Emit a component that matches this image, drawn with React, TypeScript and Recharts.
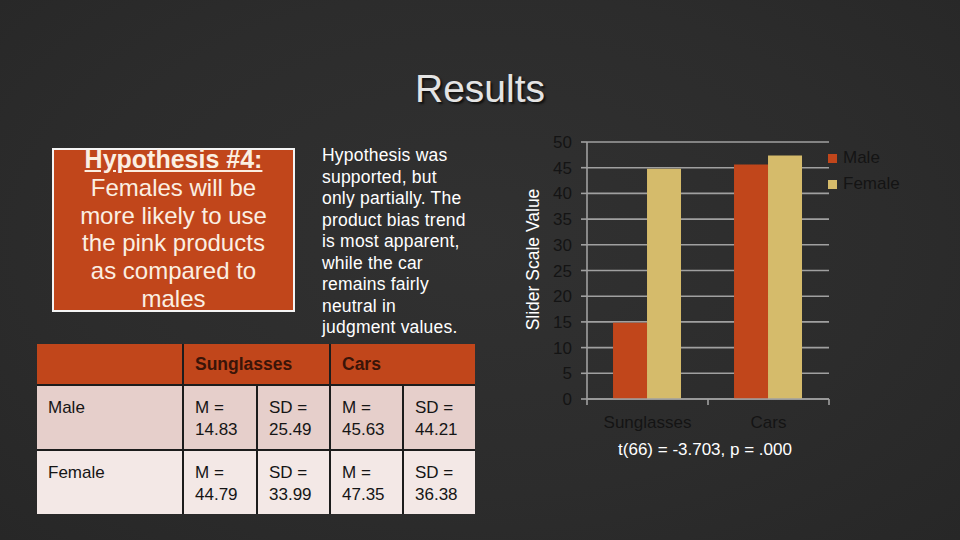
import React from "react";
import { BarChart, Bar, XAxis, YAxis, CartesianGrid, Legend, Label } from "recharts";

const categories = ["Sunglasses", "Cars"];
const maleValues = [14.83, 45.63];
const femaleValues = [44.79, 47.35];
const yTicks = [0, 5, 10, 15, 20, 25, 30, 35, 40, 45, 50];
const seriesNames = ["Male", "Female"];

const maleSD = [25.49, 44.21];
const femaleSD = [33.99, 36.38];

const hypothesisTitle = "Hypothesis #4:";
const hypothesisLines = ["Females will be", "more likely to use", "the pink products", "as compared to", "males"];
const paragraphLines = [
  "Hypothesis was",
  "supported, but",
  "only partially. The",
  "product bias trend",
  "is most apparent,",
  "while the car",
  "remains fairly",
  "neutral in",
  "judgment values.",
];
const statText = "t(66) = -3.703, p = .000";

const data = categories.map((c, i) => ({
  category: c,
  Male: maleValues[i],
  Female: femaleValues[i],
}));

const FONT = '"Liberation Sans", Arial, Helvetica, sans-serif';
const MALE_COLOR = "#c1461b";
const FEMALE_COLOR = "#d5bb6b";
const GRID = "#a0a0a0";
const DARK_TEXT = "#141414";

const XTick = (props: any) => {
  const { x, y, payload, index } = props;
  const half = payload && typeof payload.offset === "number" ? payload.offset : 0;
  const last = index === categories.length - 1;
  return (
    <g>
      <line x1={x - half} x2={x - half} y1={y} y2={y + 6} stroke={GRID} strokeWidth={1.6} />
      {last && <line x1={x + half} x2={x + half} y1={y} y2={y + 6} stroke={GRID} strokeWidth={1.6} />}
      <text x={x} y={y + 29} textAnchor="middle" fill={DARK_TEXT} fontSize={17} fontFamily={FONT}>
        {payload.value}
      </text>
    </g>
  );
};

const LegendContent = (props: any) => {
  const payload = [...(props.payload || [])].sort(
    (a: any, b: any) => seriesNames.indexOf(a.value) - seriesNames.indexOf(b.value)
  );
  return (
    <div style={{ fontFamily: FONT }}>
      {payload.map((p: any) => (
        <div key={p.value} style={{ display: "flex", alignItems: "center", height: 26 }}>
          <div style={{ width: 9, height: 9, background: p.color, marginRight: 6 }} />
          <span style={{ fontSize: 17, color: DARK_TEXT, lineHeight: "26px" }}>{p.value}</span>
        </div>
      ))}
    </div>
  );
};

const cellText: React.CSSProperties = {
  fontSize: 17,
  lineHeight: "22px",
  color: "#151515",
  padding: "11px 0 0 11px",
  boxSizing: "border-box",
};

export default function App() {
  const tableRows = [
    { label: "Male", m: maleValues, sd: maleSD, bg: "#e6cfcb" },
    { label: "Female", m: femaleValues, sd: femaleSD, bg: "#f3e8e6" },
  ];
  return (
    <div
      style={{
        position: "absolute",
        left: 0,
        top: 0,
        width: 960,
        height: 540,
        overflow: "hidden",
        background: "radial-gradient(ellipse at 50% 45%, #313131 0%, #2c2c2c 60%, #272727 100%)",
        fontFamily: FONT,
      }}
    >
      {/* Title */}
      <div
        style={{
          position: "absolute",
          left: 0,
          width: 960,
          top: 69,
          textAlign: "center",
          fontSize: 39,
          lineHeight: "40px",
          color: "#e4e4e4",
          textShadow: "2px 2px 2px #111",
        }}
      >
        Results
      </div>

      {/* Hypothesis box */}
      <div
        style={{
          position: "absolute",
          left: 52,
          top: 148,
          width: 243,
          height: 164,
          boxSizing: "border-box",
          border: "2px solid #f4f4f4",
          background: "#c1461b",
        }}
      >
        <div
          style={{
            position: "absolute",
            left: 0,
            right: 0,
            top: -4,
            textAlign: "center",
            color: "#fbefe2",
            fontSize: 24,
            lineHeight: "27.8px",
            whiteSpace: "nowrap",
          }}
        >
          <div style={{ fontWeight: "bold", textDecoration: "underline", fontSize: 25 }}>{hypothesisTitle}</div>
          {hypothesisLines.map((l) => (
            <div key={l}>{l}</div>
          ))}
        </div>
      </div>

      {/* Paragraph */}
      <div
        style={{
          position: "absolute",
          left: 322,
          top: 145,
          color: "#ffffff",
          fontSize: 17.5,
          lineHeight: "21.5px",
          letterSpacing: 0.2,
          whiteSpace: "nowrap",
        }}
      >
        {paragraphLines.map((l) => (
          <div key={l}>{l}</div>
        ))}
      </div>

      {/* Table */}
      <div
        style={{
          position: "absolute",
          left: 37,
          top: 344,
          display: "grid",
          gridTemplateColumns: "145px 72px 71px 71px 71px",
          gridTemplateRows: "40px 63px 63px",
          gap: 2,
          background: "#1c1c1c",
        }}
      >
        <div style={{ background: "#c1461b" }} />
        {categories.map((c) => (
          <div
            key={c}
            style={{
              gridColumn: "span 2",
              background: "#c1461b",
              color: "#3a1408",
              fontWeight: "bold",
              fontSize: 17.5,
              display: "flex",
              alignItems: "center",
              paddingLeft: 11,
            }}
          >
            {c}
          </div>
        ))}
        {tableRows.map((r) => (
          <React.Fragment key={r.label}>
            <div style={{ ...cellText, background: r.bg }}>{r.label}</div>
            {categories.map((c, i) => (
              <React.Fragment key={c}>
                <div style={{ ...cellText, background: r.bg }}>
                  M =<br />
                  {r.m[i].toFixed(2)}
                </div>
                <div style={{ ...cellText, background: r.bg }}>
                  SD =<br />
                  {r.sd[i].toFixed(2)}
                </div>
              </React.Fragment>
            ))}
          </React.Fragment>
        ))}
      </div>

      {/* Chart */}
      <div style={{ position: "absolute", left: 500, top: 120 }}>
        <BarChart
          width={460}
          height={360}
          data={data}
          margin={{ top: 22, right: 131, left: 47, bottom: 41 }}
          barCategoryGap="21.5%"
          barGap={0}
        >
          <CartesianGrid horizontal={true} vertical={false} stroke={GRID} strokeWidth={1.6} />
          <XAxis
            dataKey="category"
            axisLine={{ stroke: GRID, strokeWidth: 1.6 }}
            tickLine={false}
            tickSize={0}
            tickMargin={0}
            height={40}
            tick={<XTick />}
            interval={0}
          />
          <YAxis
            domain={[0, 50]}
            ticks={yTicks}
            width={40}
            axisLine={{ stroke: GRID, strokeWidth: 1.6 }}
            tickLine={{ stroke: GRID, strokeWidth: 1.6 }}
            tickSize={6}
            tickMargin={9}
            tick={{ fill: DARK_TEXT, fontSize: 17, fontFamily: FONT }}
            interval={0}
          >
            <Label
              value="Slider Scale Value"
              angle={-90}
              position="center"
              dx={-34}
              dy={-11}
              fill="#ffffff"
              fontSize={17.5}
              fontFamily={FONT}
            />
          </YAxis>
          <Legend
            layout="horizontal"
            align="center"
            verticalAlign="middle"
            content={<LegendContent />}
            wrapperStyle={{ left: 328, top: 25, width: 120, height: 52 }}
          />
          <Bar dataKey={seriesNames[0]} fill={MALE_COLOR} isAnimationActive={false} />
          <Bar dataKey={seriesNames[1]} fill={FEMALE_COLOR} isAnimationActive={false} />
        </BarChart>
      </div>

      {/* Statistic */}
      <div
        style={{
          position: "absolute",
          left: 605,
          width: 200,
          top: 439,
          textAlign: "center",
          fontSize: 17,
          lineHeight: "22px",
          color: "#ffffff",
          whiteSpace: "nowrap",
        }}
      >
        {statText}
      </div>
    </div>
  );
}
